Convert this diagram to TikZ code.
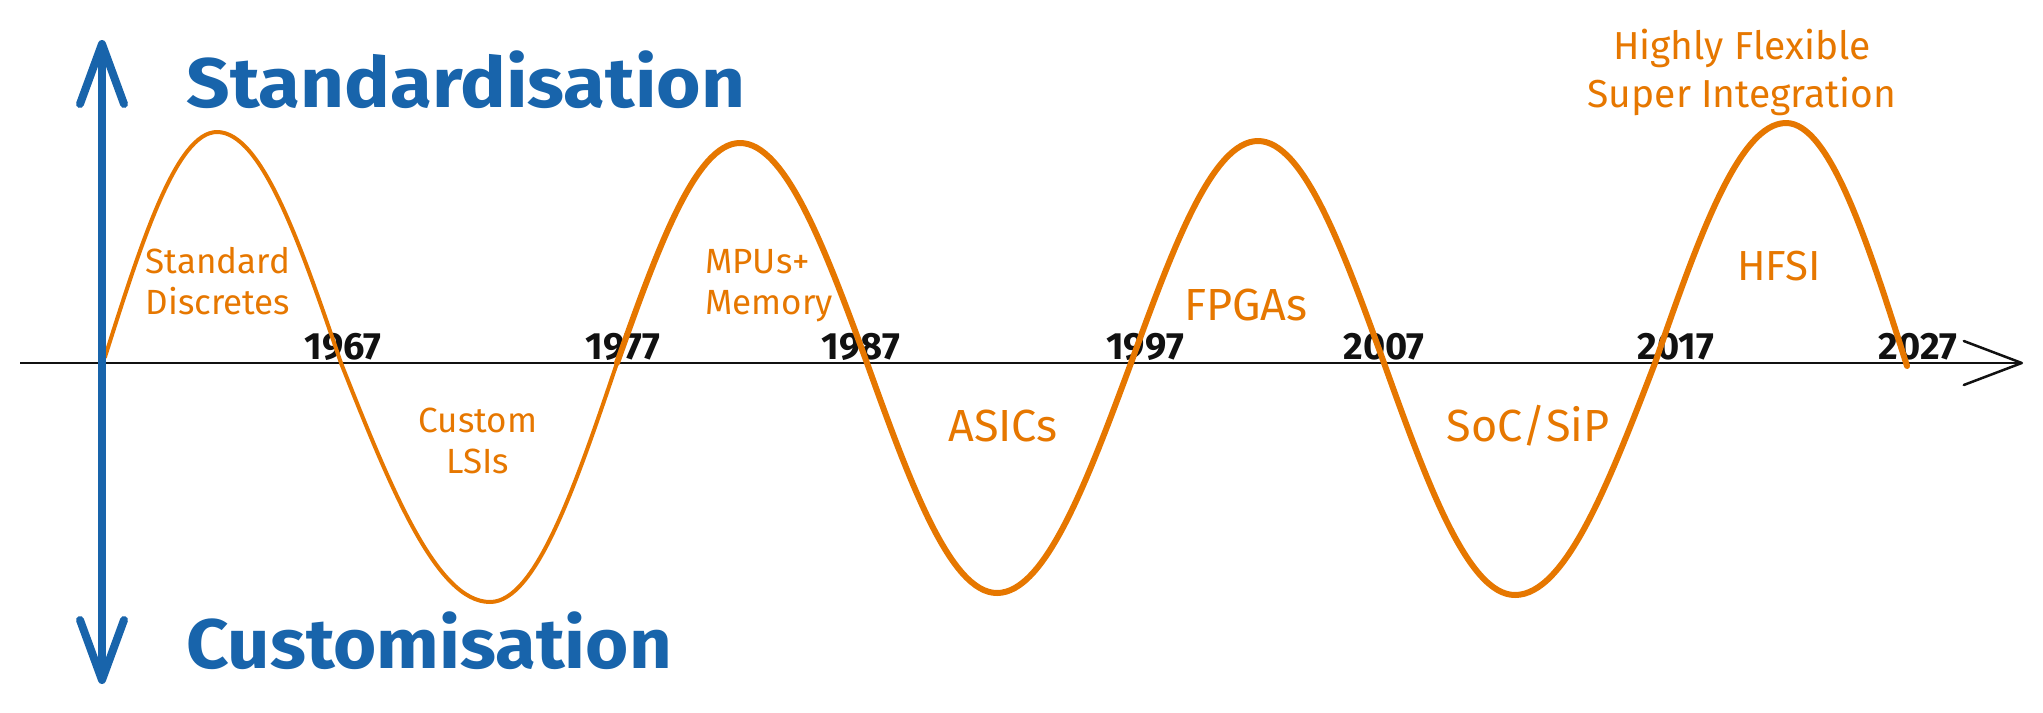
\documentclass[tikz,border=0pt]{standalone}
\usepackage{fontspec}
\setmainfont{Fira Sans}
\usetikzlibrary{arrows.meta}
\definecolor{tblue}{HTML}{1864AB}
\definecolor{torange}{HTML}{E67700}
\definecolor{tblack}{HTML}{111111}
\begin{document}
\begin{tikzpicture}[x=0.5pt,y=-0.5pt,
  title/.style={text=tblue, font=\fontsize{35}{40}\selectfont\bfseries, inner sep=0, anchor=base west},
  year/.style={text=tblack, font=\fontsize{19}{24}\selectfont\bfseries, inner sep=0, anchor=base},
  lab/.style={text=torange, font=\fontsize{17.5}{20.5}\selectfont, inner sep=0, anchor=base, align=center},
  biglab/.style={text=torange, font=\fontsize{22.5}{26}\selectfont, inner sep=0, anchor=base},
  toplab/.style={text=torange, font=\fontsize{19.5}{24}\selectfont, inner sep=0, anchor=base, align=center},
  wave/.style={draw=torange, line cap=round, line join=round},
  axisline/.style={draw=tblack, line width=1.25pt, -{Straight Barb[length=29pt,width=22pt,round]}},
  vaxis/.style={draw=tblue, line width=4pt, line cap=round, {Straight Barb[length=30pt,width=22pt,round]}-{Straight Barb[length=30pt,width=22pt,round]}}
]
\useasboundingbox (0,0) rectangle (2043,712);

% horizontal time axis
\coordinate (hstart) at (20,363);
\coordinate (hend) at (2023,363);
\draw[axisline] (hstart) -- (hend);

% year labels
\node[year] (y1967) at (343,359) {1967};
\node[year] (y1977) at (623,359) {1977};
\node[year] (y1987) at (861,359) {1987};
\node[year] (y1997) at (1145,359) {1997};
\node[year] (y2007) at (1384,359) {2007};
\node[year] (y2017) at (1676,359) {2017};
\node[year] (y2027) at (1918,359) {2027};

% the wave
\draw[wave, line width=2pt] (105,357) sin (217,132) cos (341,363) sin (490,602) cos (617,363);
\draw[wave, line width=3pt] (617,363) sin (740,143) cos (867,363) sin (997,593) cos (1131,363)
   sin (1258,141) cos (1384,363) sin (1515,595) cos (1655,363) sin (1786,123) cos (1907,366);

% vertical axis
\coordinate (vtop) at (102,40);
\coordinate (vbot) at (102,684);
\draw[vaxis] (vbot) -- (vtop);

% titles
\node[title] (std) at (186,107) {\scalebox{1.09}[1]{Standardisation}};
\node[title] (cust) at (186,668) {\scalebox{1.06}[1]{Customisation}};

% orange labels (anchor = baseline of last line)
\node[lab] (discretes) at (218,314) {Standard\\Discretes};
\node[lab] (lsis) at (478,473) {Custom\\LSIs};
\node[lab, align=left, anchor=base west] (mpus) at (705,314) {MPUs+\\Memory};
\node[biglab] (asics) at (1003,441) {ASICs};
\node[biglab] (fpgas) at (1246,320) {FPGAs};
\node[biglab] (soc) at (1528,441) {SoC/SiP};
\node[lab, font=\fontsize{21}{24}\selectfont] (hfsi) at (1779,280) {HFSI};
\node[toplab] (hfsilong) at (1742,107) {Highly Flexible\\Super Integration};
\end{tikzpicture}
\end{document}
